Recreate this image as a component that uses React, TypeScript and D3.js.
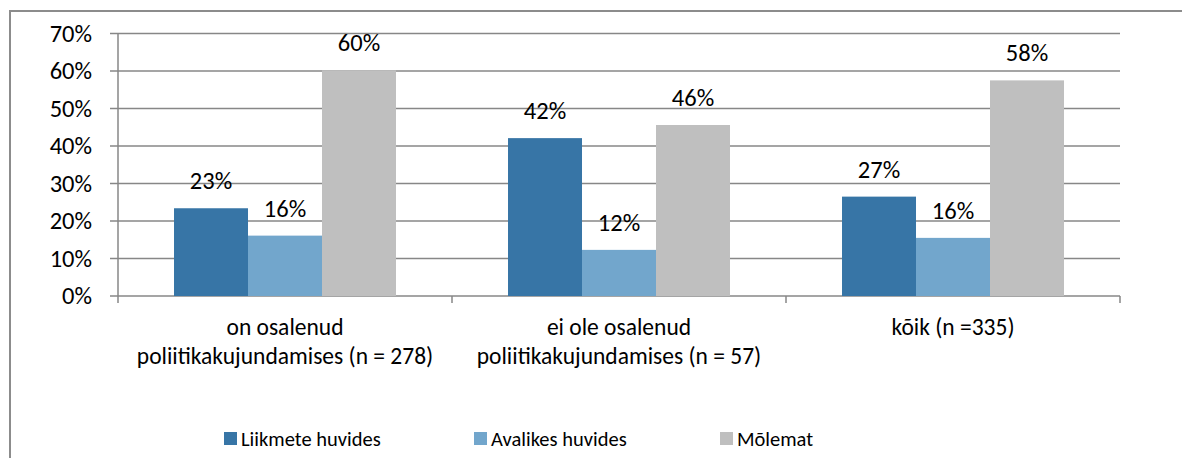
import React from 'react'
import { scaleBand, scaleLinear, range } from 'd3'

// categories (two-line labels) and series values (percent)
const categories = ['g1', 'g2', 'g3']
const categoryLabels = [
    ['on osalenud', 'poliitikakujundamises (n = 278)'],
    ['ei ole osalenud', 'poliitikakujundamises (n = 57)'],
    ['kõik (n =335)'],
]
const seriesNames = ['Liikmete huvides', 'Avalikes huvides', 'Mõlemat']
const seriesColors = ['#3775A6', '#72A6CC', '#BFBFBF']
const liikmete = [23.4, 42.1, 26.5]
const avalikes = [16.1, 12.3, 15.5]
const molemat = [60.2, 45.6, 57.5]
const yTicks = [0, 10, 20, 30, 40, 50, 60, 70]

const values = [liikmete, avalikes, molemat]

const W = 1182
const H = 458
const FONT = 'Carlito, Calibri, Lato, sans-serif'

const App = () => {
    const plot = { left: 118, right: 1120, top: 33.5, bottom: 296 }

    const x0 = scaleBand<string>()
        .domain(categories)
        .range([plot.left, plot.right])

    const x1 = scaleBand<string>()
        .domain(seriesNames)
        .range([0, x0.bandwidth()])
        .paddingOuter(0.757)

    const y = scaleLinear().domain([0, 70]).range([plot.bottom, plot.top])

    const gridColor = '#878787'

    // legend item positions
    const legendX = [224, 474, 720]

    return (
        <svg width={W} height={H} style={{ position: 'absolute', left: 0, top: 0, background: 'white' }}
            fontFamily={FONT}>
            {/* outer frame */}
            <path d={`M10,${H + 5} V11 H${W + 5}`} fill="none" stroke="#8c8c8c" strokeWidth={2} />

            {/* gridlines + y ticks */}
            {yTicks.map(t => (
                <g key={t}>
                    <line x1={plot.left - 8} x2={plot.right} y1={y(t)} y2={y(t)} stroke={gridColor} strokeWidth={1.5} />
                    <text x={92} y={y(t)} dy="0.34em" textAnchor="end" fontSize={24.5} fill="#000">{t}%</text>
                </g>
            ))}
            {/* y axis */}
            <line x1={plot.left} x2={plot.left} y1={plot.top} y2={plot.bottom} stroke={gridColor} strokeWidth={1.5} />

            {/* category ticks */}
            {range(categories.length + 1).map(i => {
                const xx = i < categories.length ? x0(categories[i])! : plot.right
                return <line key={i} x1={xx} x2={xx} y1={plot.bottom} y2={plot.bottom + 7} stroke={gridColor} strokeWidth={1.5} />
            })}

            {/* bars */}
            {categories.map((c, ci) => (
                <g key={c} transform={`translate(${x0(c)},0)`}>
                    {seriesNames.map((s, si) => {
                        const v = values[si][ci]
                        const bx = x1(s)!
                        return (
                            <g key={s}>
                                <rect x={bx} y={y(v)} width={x1.bandwidth()} height={plot.bottom - y(v)} fill={seriesColors[si]} />
                                <text x={bx + x1.bandwidth() / 2} y={y(v) - 19} textAnchor="middle" fontSize={24.5} fill="#000">
                                    {Math.round(v)}%
                                </text>
                            </g>
                        )
                    })}
                </g>
            ))}

            {/* category labels */}
            {categories.map((c, ci) => (
                <text key={c} x={x0(c)! + x0.bandwidth() / 2} y={335} textAnchor="middle" fontSize={23.5} fill="#000">
                    {categoryLabels[ci].map((l, li) => (
                        <tspan key={li} x={x0(c)! + x0.bandwidth() / 2} dy={li === 0 ? 0 : 29}>{l}</tspan>
                    ))}
                </text>
            ))}

            {/* legend */}
            {seriesNames.map((s, si) => (
                <g key={s} transform={`translate(${legendX[si]},432)`}>
                    <rect x={0} y={0} width={13} height={13} fill={seriesColors[si]} />
                    <text x={17} y={6.5} dy="0.36em" fontSize={20.5} fill="#000">{s}</text>
                </g>
            ))}
        </svg>
    )
}

export default App
